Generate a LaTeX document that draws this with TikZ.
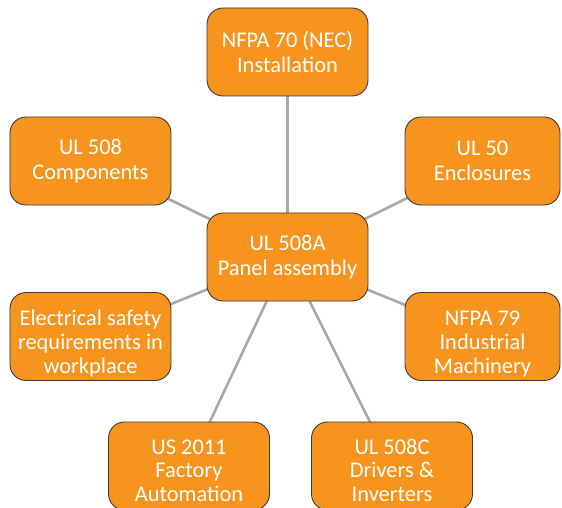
\documentclass[tikz,border=0pt]{standalone}
\usepackage{fontspec}
\setmainfont{Carlito}
\usetikzlibrary{backgrounds}
\definecolor{boxorange}{HTML}{F7941D}
\definecolor{boxedge}{HTML}{3A3A3A}
\definecolor{linkgray}{HTML}{A8A8A8}
\newcommand{\tallstrut}{\rule{0pt}{30bp}}
\newcommand{\lowstrut}{\rule{0pt}{24bp}}
\tikzset{
  topic/.style={draw=boxedge, line width=0.9bp, fill=boxorange, rounded corners=16bp,
    minimum width=161bp, minimum height=88bp, inner sep=0pt, align=center,
    text=white, font=\fontsize{22.5}{24}\selectfont},
  narrow/.style={minimum width=155bp},
  link/.style={draw=linkgray, line width=2.6bp}
}
\begin{document}
\begin{tikzpicture}[x=1bp,y=-1bp]
\useasboundingbox (0,0) rectangle (562,508);
\clip (0,0) rectangle (562,508);
\node[topic] (nec) at (287.5,52) {NFPA 70 (NEC)\\[1.5bp]Installation};
\node[topic] (ul508) at (90.5,161) {UL 508\\[1.5bp]Components};
\node[topic,narrow] (ul50) at (482.5,161) {UL 50\\[1.5bp]Enclosures};
\node[topic] (main) at (287.5,257) {UL 508A\\[1.5bp]Panel assembly};
\node[topic] (elec) at (90.5,336.5) {\tallstrut Electrical safety\\requirements in\\workplace};
\node[topic,narrow] (nfpa79) at (482.5,336.5) {\tallstrut NFPA 79\\Industrial\\Machinery};
\node[topic] (us2011) at (189,466) {\lowstrut US 2011\\Factory\\Automation};
\node[topic] (ul508c) at (392,466) {\lowstrut UL 508C\\Drivers \&\\Inverters};
\begin{scope}[on background layer]
\foreach \n in {nec,ul508,ul50,elec,nfpa79,us2011,ul508c}
  \draw[link] (main.center) -- (\n.center);
\end{scope}
\end{tikzpicture}
\end{document}
